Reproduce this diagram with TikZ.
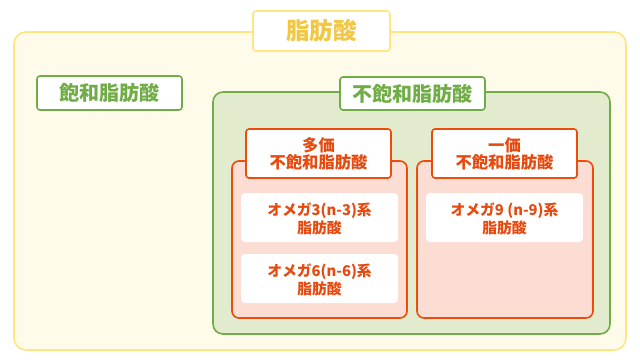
\documentclass[tikz,border=0pt]{standalone}
\usepackage{fontspec}
\setmainfont{Noto Sans CJK JP}
\definecolor{ylwline}{HTML}{FFE680}
\definecolor{ylwfill}{HTML}{FFFBEA}
\definecolor{ylwtext}{HTML}{F2C744}
\definecolor{grnline}{HTML}{70AD47}
\definecolor{grnfill}{HTML}{E2EBCD}
\definecolor{orgline}{HTML}{EE4C0A}
\definecolor{orgfill}{HTML}{FCDDD3}
\definecolor{orgtext}{HTML}{E8490F}
\begin{document}
\begin{tikzpicture}[x=1pt,y=-1pt,
  container/.style={rounded corners=10pt, line width=1.6pt},
  labelbox/.style={fill=white, rounded corners=3pt, line width=1.6pt},
  innerbox/.style={fill=white, rounded corners=4pt},
  lbl/.style={font=\bfseries\fontsize{#1}{#1}\selectfont, align=center},
]
\useasboundingbox[fill=white] (0,0) rectangle (640,360);
% outer
\draw[container, draw=ylwline, fill=ylwfill, rounded corners=12pt] (14,32) rectangle (626,350);
\draw[labelbox, draw=ylwline] (253,11) rectangle (390,51);
\node[lbl=23.5, text=ylwtext] (t0) at (321.5,31) {脂肪酸};
% saturated
\draw[labelbox, draw=grnline] (37,76) rectangle (182,110);
\node[lbl=20, text=grnline] (sat) at (109.5,93) {飽和脂肪酸};
% unsaturated container
\draw[container, draw=grnline, fill=grnfill] (213,92) rectangle (610,334);
\draw[labelbox, draw=grnline] (340,77) rectangle (485,110);
\node[lbl=20, text=grnline] (unsat) at (412.5,93.5) {不飽和脂肪酸};
% poly
\draw[container, draw=orgline, fill=orgfill, rounded corners=7pt] (232,161) rectangle (407,318);
\draw[labelbox, draw=orgline] (246,129) rectangle (391,178);
\node[lbl=16.3, text=orgtext] (poly) at (318.5,154) {多価\\[1pt]不飽和脂肪酸};
% mono
\draw[container, draw=orgline, fill=orgfill, rounded corners=7pt] (417,161) rectangle (593,318);
\draw[labelbox, draw=orgline] (432,129) rectangle (577,178);
\node[lbl=16.3, text=orgtext] (mono) at (504.5,154) {一価\\[1pt]不飽和脂肪酸};
% inner boxes
\fill[innerbox] (241,193) rectangle (398,242);
\node[lbl=14.8, text=orgtext] (o3) at (319.5,219) {オメガ3(n-3)系\\[2pt]脂肪酸};
\fill[innerbox] (241,254) rectangle (398,303);
\node[lbl=14.8, text=orgtext] (o6) at (319.5,280) {オメガ6(n-6)系\\[2pt]脂肪酸};
\fill[innerbox] (426,193) rectangle (583,242);
\node[lbl=14.8, text=orgtext] (o9) at (504.5,219) {オメガ9 (n-9)系\\[2pt]脂肪酸};
\end{tikzpicture}
\end{document}
